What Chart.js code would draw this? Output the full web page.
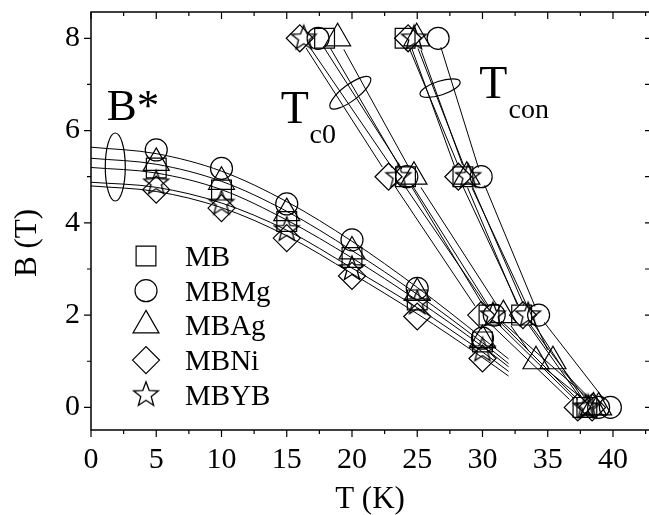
<!DOCTYPE html>
<html>
<head>
<meta charset="utf-8">
<script src="https://cdn.jsdelivr.net/npm/chart.js@4.4.1/dist/chart.umd.min.js"></script>
<style>
  html, body { margin: 0; padding: 0; background: #fff; overflow: hidden; }
  #wrap { width: 649px; height: 515px; position: relative; }
</style>
</head>
<body>
<div id="wrap"><canvas id="fieldChart"></canvas></div>
<script>
// --- data ---
const seriesNames = ['MB', 'MBMg', 'MBAg', 'MBNi', 'MBYB'];

const xTicks = [0, 5, 10, 15, 20, 25, 30, 35, 40];
const yTicks = [0, 2, 4, 6, 8];

// B* measured at fixed temperatures
const bStarTemps = [5, 10, 15, 20, 25, 30];
const bStarMB   = [5.19, 4.71, 4.03, 3.25, 2.33, 1.42];
const bStarMBMg = [5.58, 5.18, 4.41, 3.63, 2.58, 1.50];
const bStarMBAg = [5.30, 4.89, 4.21, 3.38, 2.48, 1.46];
const bStarMBNi = [4.72, 4.32, 3.67, 2.85, 1.97, 1.06];
const bStarMBYB = [4.86, 4.42, 3.85, 3.00, 2.26, 1.24];

// fitted B*(T) curves
const fitTemps = [0, 5, 10, 15, 20, 25, 30, 32];
const fitMB   = [5.20, 5.08, 4.72, 4.06, 3.24, 2.32, 1.32, 0.88];
const fitMBMg = [5.64, 5.50, 5.12, 4.46, 3.60, 2.60, 1.50, 1.05];
const fitMBAg = [5.40, 5.27, 4.90, 4.25, 3.40, 2.45, 1.40, 0.95];
const fitMBNi = [4.80, 4.68, 4.33, 3.72, 2.90, 2.03, 1.08, 0.68];
const fitMBYB = [4.88, 4.77, 4.43, 3.84, 3.02, 2.16, 1.20, 0.78];

// Tc0 / Tcon: applied field (T) and transition temperature (K)
const fieldSteps = [8, 5, 2, 0];
const tc0FieldsMBAg = [8, 5, 2, 1, 0];
const tconFieldsMBAg = [8, 5, 1, 0];

const tc0MB   = [17.9, 24.1, 30.5, 37.7];
const tc0MBMg = [17.4, 24.2, 30.9, 38.9];
const tc0MBAg = [18.9, 24.75, 31.6, 34.1, 38.5];
const tc0MBNi = [16.0, 22.8, 29.9, 37.3];
const tc0MBYB = [16.3, 23.55, 30.8, 37.9];

const tconMB   = [24.07, 28.5, 33.0, 38.0];
const tconMBMg = [26.6, 29.9, 34.3, 39.8];
const tconMBAg = [24.96, 28.8, 35.4, 38.9];
const tconMBNi = [24.3, 28.15, 33.1, 38.4];
const tconMBYB = [24.75, 28.9, 33.5, 38.1];

// --- styling ---
const FONT = '"Liberation Serif", "Times New Roman", serif';

function makeStar(r) {
  const size = Math.ceil(r * 2 + 4);
  const c = document.createElement('canvas');
  c.width = c.height = size;
  const g = c.getContext('2d');
  g.translate(size / 2, size / 2);
  g.beginPath();
  for (let i = 0; i < 10; i++) {
    const rr = i % 2 ? r * 0.42 : r;
    const a = -Math.PI / 2 + i * Math.PI / 5;
    g.lineTo(rr * Math.cos(a), rr * Math.sin(a));
  }
  g.closePath();
  g.lineWidth = 1.3;
  g.strokeStyle = '#000';
  g.stroke();
  return c;
}
const starImg = makeStar(13);

const markers = {
  MB:   { style: 'rect', radius: 14 },
  MBMg: { style: 'circle', radius: 11 },
  MBAg: { style: 'triangle', radius: 15 },
  MBNi: { style: 'rectRot', radius: 13.5 },
  MBYB: { style: starImg, radius: 13 }
};

const series = {
  MB:   { bStar: bStarMB,   fit: fitMB,   tc0: [fieldSteps, tc0MB],       tcon: [fieldSteps, tconMB] },
  MBMg: { bStar: bStarMBMg, fit: fitMBMg, tc0: [fieldSteps, tc0MBMg],     tcon: [fieldSteps, tconMBMg] },
  MBAg: { bStar: bStarMBAg, fit: fitMBAg, tc0: [tc0FieldsMBAg, tc0MBAg],  tcon: [tconFieldsMBAg, tconMBAg] },
  MBNi: { bStar: bStarMBNi, fit: fitMBNi, tc0: [fieldSteps, tc0MBNi],     tcon: [fieldSteps, tconMBNi] },
  MBYB: { bStar: bStarMBYB, fit: fitMBYB, tc0: [fieldSteps, tc0MBYB],     tcon: [fieldSteps, tconMBYB] }
};

function pts(xs, ys) { return xs.map((x, i) => ({ x: x, y: ys[i] })); }

function markerSet(name, data) {
  const m = markers[name];
  return {
    label: name,
    data: data,
    showLine: false,
    pointStyle: m.style,
    pointRadius: m.radius,
    pointBorderWidth: 1.2,
    pointBorderColor: '#000',
    pointBackgroundColor: 'rgba(0,0,0,0)'
  };
}

// connecting line that stops short of each symbol
function gapLineSet(name, data) {
  return {
    label: name + ' line',
    data: data,
    showLine: true,
    borderColor: '#000',
    borderWidth: 1,
    tension: 0,
    pointRadius: 0,
    gap: markers[name].radius * 0.85
  };
}

const datasets = [];
seriesNames.forEach(name => {
  const s = series[name];
  datasets.push({
    label: name + ' fit',
    data: pts(fitTemps, s.fit),
    showLine: true,
    borderColor: '#000',
    borderWidth: 1,
    pointRadius: 0,
    cubicInterpolationMode: 'monotone'
  });
  const tc0 = pts(s.tc0[1], s.tc0[0]);
  const tcon = pts(s.tcon[1], s.tcon[0]);
  datasets.push(gapLineSet(name, tc0));
  datasets.push(gapLineSet(name, tcon));
  datasets.push(markerSet(name, pts(bStarTemps, s.bStar)));
  datasets.push(markerSet(name, tc0));
  datasets.push(markerSet(name, tcon));
});

// cut holes around the points of gapped lines
const lineGaps = {
  id: 'lineGaps',
  beforeDatasetDraw(chart, args) {
    const ds = chart.data.datasets[args.index];
    if (!ds.gap) return;
    const ctx = chart.ctx;
    ctx.save();
    ctx.beginPath();
    ctx.rect(0, 0, chart.width, chart.height);
    args.meta.data.forEach(p => {
      ctx.moveTo(p.x + ds.gap, p.y);
      ctx.arc(p.x, p.y, ds.gap, 0, Math.PI * 2);
    });
    ctx.clip('evenodd');
  },
  afterDatasetDraw(chart, args) {
    if (chart.data.datasets[args.index].gap) chart.ctx.restore();
  }
};

// frame with ticks on all four sides (right edge sits at the canvas border)
const frameTicks = {
  id: 'frameTicks',
  afterDatasetsDraw(chart) {
    const { ctx, chartArea: a, scales: { x, y } } = chart;
    ctx.save();
    ctx.strokeStyle = '#000';
    ctx.lineWidth = 1.5;
    ctx.beginPath();
    ctx.moveTo(a.right, a.top);
    ctx.lineTo(a.left, a.top);
    ctx.lineTo(a.left, a.bottom);
    ctx.lineTo(a.right, a.bottom);
    ctx.stroke();
    ctx.lineWidth = 1.2;
    ctx.beginPath();
    for (let v = 0; v <= x.max; v += 2.5) {
      const px = x.getPixelForValue(v);
      const len = v % 5 === 0 ? 7 : 4;
      ctx.moveTo(px, a.bottom); ctx.lineTo(px, a.bottom + len);
      ctx.moveTo(px, a.top); ctx.lineTo(px, a.top + len);
    }
    for (let v = 0; v <= y.max; v += 1) {
      const py = y.getPixelForValue(v);
      const len = v % 2 === 0 ? 7 : 4;
      ctx.moveTo(a.left, py); ctx.lineTo(a.left - len, py);
      ctx.moveTo(a.right, py); ctx.lineTo(a.right - 4, py);
    }
    ctx.stroke();
    ctx.restore();
  }
};

// B*, Tc0, Tcon labels with their grouping ellipses, plus the y title
const annotations = {
  id: 'annotations',
  afterDatasetsDraw(chart) {
    const { ctx, scales: { x, y } } = chart;
    const px = v => x.getPixelForValue(v);
    const py = v => y.getPixelForValue(v);
    ctx.save();
    ctx.fillStyle = '#000';
    ctx.textAlign = 'left';
    ctx.textBaseline = 'alphabetic';
    ctx.font = '45px ' + FONT;
    ctx.fillText('B*', px(1.2), py(6.23));
    ctx.font = '46px ' + FONT;
    ctx.fillText('T', px(14.55), py(6.16));
    ctx.fillText('T', px(29.75), py(6.70));
    ctx.font = '28px ' + FONT;
    ctx.fillText('c0', px(16.75), py(5.73));
    ctx.fillText('con', px(32.0), py(6.28));

    ctx.strokeStyle = '#000';
    ctx.lineWidth = 1.2;
    const ell = (cx, cy, rx, ry, rot) => {
      ctx.beginPath();
      ctx.ellipse(px(cx), py(cy), rx, ry, rot * Math.PI / 180, 0, Math.PI * 2);
      ctx.stroke();
    };
    ell(1.86, 5.21, 10, 34, 0);
    ell(19.87, 6.82, 25, 8, -37);
    ell(26.75, 6.92, 21, 7, -18);

    ctx.font = '31px ' + FONT;
    ctx.textAlign = 'center';
    ctx.textBaseline = 'middle';
    ctx.translate(28, 243);
    ctx.rotate(-Math.PI / 2);
    ctx.fillText('B (T)', 0, 0);
    ctx.restore();
  }
};

// legend inside the plot area
const innerLegend = {
  id: 'innerLegend',
  afterDatasetsDraw(chart) {
    const { ctx, chartArea: a } = chart;
    ctx.save();
    ctx.strokeStyle = '#000';
    ctx.lineWidth = 1.2;
    seriesNames.forEach((name, i) => {
      const cy = a.top + 244 + i * 34.7;
      const m = markers[name];
      ctx.fillStyle = 'rgba(0,0,0,0)';
      Chart.helpers.drawPoint(ctx, { pointStyle: m.style, radius: m.radius, rotation: 0, borderWidth: 1.2 }, a.left + 55, cy);
      ctx.fillStyle = '#000';
      ctx.font = '29px ' + FONT;
      ctx.textAlign = 'left';
      ctx.textBaseline = 'alphabetic';
      ctx.fillText(name, a.left + 94, cy + 10);
    });
    ctx.restore();
  }
};

const chart = new Chart(document.getElementById('fieldChart'), {
  type: 'scatter',
  data: { datasets: datasets },
  options: {
    responsive: true,
    maintainAspectRatio: false,
    animation: false,
    layout: { autoPadding: false, padding: { top: 12, right: 0, left: 0, bottom: 0 } },
    plugins: { legend: { display: false }, tooltip: { enabled: false } },
    scales: {
      x: {
        type: 'linear',
        min: 0,
        max: 42.76,
        afterBuildTicks: s => { s.ticks = xTicks.map(v => ({ value: v })); },
        afterFit: s => { s.height = 85; s.paddingLeft = 0; s.paddingRight = 0; },
        grid: { display: false, drawTicks: false },
        border: { display: false },
        ticks: { color: '#000', padding: 12, maxRotation: 0, font: { family: FONT, size: 30 } },
        title: { display: true, text: 'T (K)', color: '#000', padding: { top: 0, bottom: 0 }, font: { family: FONT, size: 31, lineHeight: 1 } }
      },
      y: {
        type: 'linear',
        min: -0.49,
        max: 8.57,
        afterBuildTicks: s => { s.ticks = yTicks.map(v => ({ value: v })); },
        afterFit: s => { s.width = 91; s.paddingTop = 0; s.paddingBottom = 0; },
        grid: { display: false, drawTicks: false },
        border: { display: false },
        ticks: { color: '#000', padding: 11, font: { family: FONT, size: 30 } }
      }
    }
  },
  plugins: [lineGaps, frameTicks, annotations, innerLegend]
});
</script>
</body>
</html>
